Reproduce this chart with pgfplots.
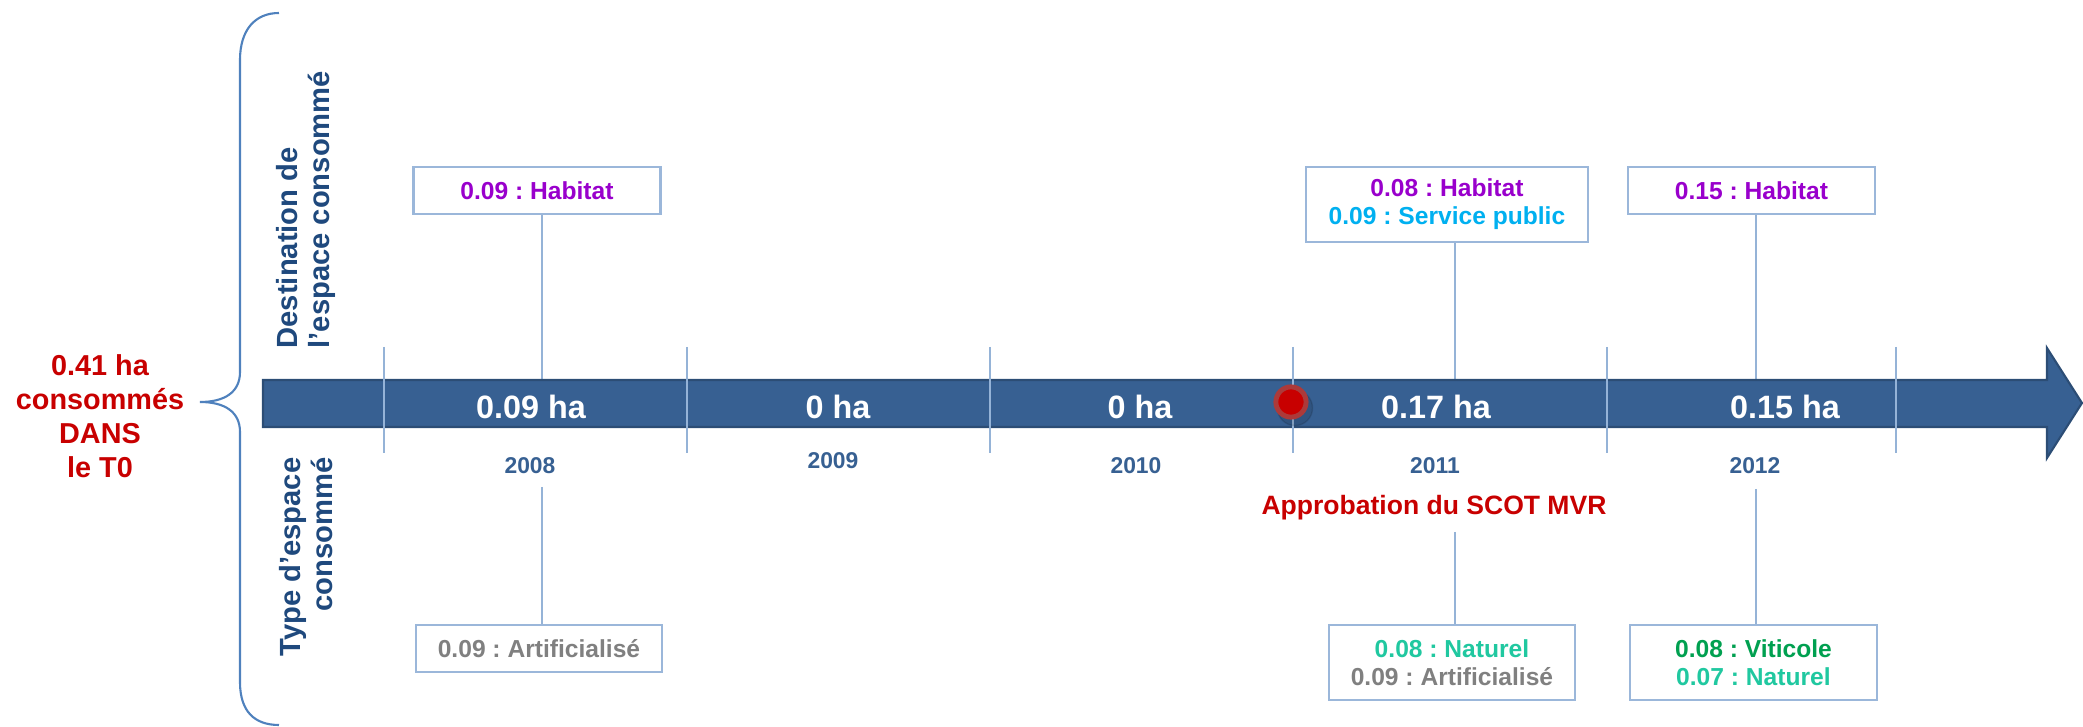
\documentclass[border=0pt]{standalone}
\usepackage{pgfplots}
\pgfplotsset{compat=1.18}
\usepackage{fontspec}
\setmainfont{Liberation Sans}
\frenchspacing

\definecolor{arrowblue}{RGB}{55,96,146}
\definecolor{arrowedge}{RGB}{44,77,117}
\definecolor{tickblue}{RGB}{149,179,215}
\definecolor{boxblue}{RGB}{155,183,218}
\definecolor{bracecol}{RGB}{79,129,189}
\definecolor{labblue}{RGB}{31,73,125}
\definecolor{purp}{RGB}{153,0,204}
\definecolor{cyanc}{RGB}{0,176,240}
\definecolor{tealc}{RGB}{32,200,160}
\definecolor{greenc}{RGB}{0,160,80}
\definecolor{greyc}{RGB}{128,128,128}
\definecolor{redc}{RGB}{200,0,0}
\definecolor{ringc}{RGB}{172,58,58}

\tikzset{box/.style={draw=boxblue, line width=0.75pt, fill=white, align=center,
    font=\bfseries\fontsize{7}{8}\selectfont, inner sep=0pt}}

\begin{document}
\begin{tikzpicture}
\begin{axis}[
  width=20.83cm, height=7.27cm, scale only axis,
  xmin=0, xmax=2083, ymin=0, ymax=727, y dir=reverse,
  hide axis, clip=false,
  unbounded coords=jump,
]
% invisible frame for the bounding box
\path (axis cs:0,0) rectangle (axis cs:2083,727);

% brace
\draw[bracecol, line width=0.6pt]
  (axis cs:279,13) .. controls (axis cs:255,13) and (axis cs:240,30) .. (axis cs:240,60)
  -- (axis cs:240,372) .. controls (axis cs:240,392) and (axis cs:225,402) .. (axis cs:200,402)
  .. controls (axis cs:225,402) and (axis cs:240,412) .. (axis cs:240,432)
  -- (axis cs:240,682) .. controls (axis cs:240,712) and (axis cs:255,725) .. (axis cs:279,725);

% connector lines
\addplot[tickblue, line width=0.6pt] coordinates {
  (542,214) (542,380) (nan,nan)
  (1455,242) (1455,380) (nan,nan)
  (1756,214) (1756,380) (nan,nan)
  (542,487) (542,625) (nan,nan)
  (1455,532) (1455,625) (nan,nan)
  (1756,489) (1756,625)
};

% arrow
\addplot[fill=arrowblue, draw=arrowedge, line width=0.6pt] coordinates {
  (263,380) (2047,380) (2047,348) (2082,403) (2047,458) (2047,427) (263,427) (263,380)
} -- cycle;

% year separators
\addplot[tickblue, line width=0.6pt] coordinates {
  (384,347) (384,453) (nan,nan)
  (687,347) (687,453) (nan,nan)
  (990,347) (990,453) (nan,nan)
  (1293,347) (1293,453) (nan,nan)
  (1607,347) (1607,453) (nan,nan)
  (1896,347) (1896,453)
};

% SCOT approval marker
\addplot[only marks, mark=*, mark size=5pt, black, opacity=0.12] coordinates {(1295,408)};
\addplot[only marks, mark=*, mark size=4.3pt, mark options={fill=redc, draw=ringc, line width=1.4pt}] coordinates {(1291,402)};

% values on the arrow
\begin{scope}[every node/.style={white, font=\bfseries\fontsize{9.2}{10}\selectfont}]
\node at (axis cs:531,407) {0.09 ha};
\node at (axis cs:838,407) {0 ha};
\node at (axis cs:1140,407) {0 ha};
\node at (axis cs:1436,407) {0.17 ha};
\node at (axis cs:1785,407) {0.15 ha};
\end{scope}

% years
\begin{scope}[every node/.style={arrowblue, font=\bfseries\fontsize{6.5}{7}\selectfont}]
\node at (axis cs:530,466) {2008};
\node at (axis cs:833,461) {2009};
\node at (axis cs:1136,466) {2010};
\node at (axis cs:1435,466) {2011};
\node at (axis cs:1755,466) {2012};
\end{scope}

\node[redc, font=\bfseries\fontsize{7.55}{9}\selectfont] at (axis cs:1434,508) {Approbation du SCOT MVR};

% boxes
\node[box, minimum width=2.47cm, minimum height=0.47cm] at (axis cs:537,190.5) {\color{purp}0.09 : Habitat};
\node[box, minimum width=2.82cm, minimum height=0.75cm] at (axis cs:1447,204.5) {{\color{purp}0.08 : Habitat}\\{\color{cyanc}0.09 : Service public}};
\node[box, minimum width=2.47cm, minimum height=0.47cm] at (axis cs:1751.5,190.5) {\color{purp}0.15 : Habitat};
\node[box, minimum width=2.46cm, minimum height=0.47cm] at (axis cs:539,648.5) {\color{greyc}0.09 : Artificialisé};
\node[box, minimum width=2.46cm, minimum height=0.75cm] at (axis cs:1452,662.5) {{\color{tealc}0.08 : Naturel}\\{\color{greyc}0.09 : Artificialisé}};
\node[box, minimum width=2.47cm, minimum height=0.75cm] at (axis cs:1753.5,662.5) {{\color{greenc}0.08 : Viticole}\\{\color{tealc}0.07 : Naturel}};

% side labels
\node[rotate=90, anchor=west, align=left, inner sep=0pt, labblue, font=\bfseries\fontsize{8.3}{9.1}\selectfont] at (axis cs:306,349) {Destination de\\l’espace consommé};
\node[rotate=90, anchor=east, align=right, inner sep=0pt, labblue, font=\bfseries\fontsize{8.3}{9.1}\selectfont] at (axis cs:306,457) {Type d’espace\\consommé};

\node[redc, align=center, font=\bfseries\fontsize{8.2}{9.7}\selectfont] at (axis cs:100,416.5) {0.41 ha\\consommés\\DANS\\le T0};
\end{axis}
\end{tikzpicture}
\end{document}
